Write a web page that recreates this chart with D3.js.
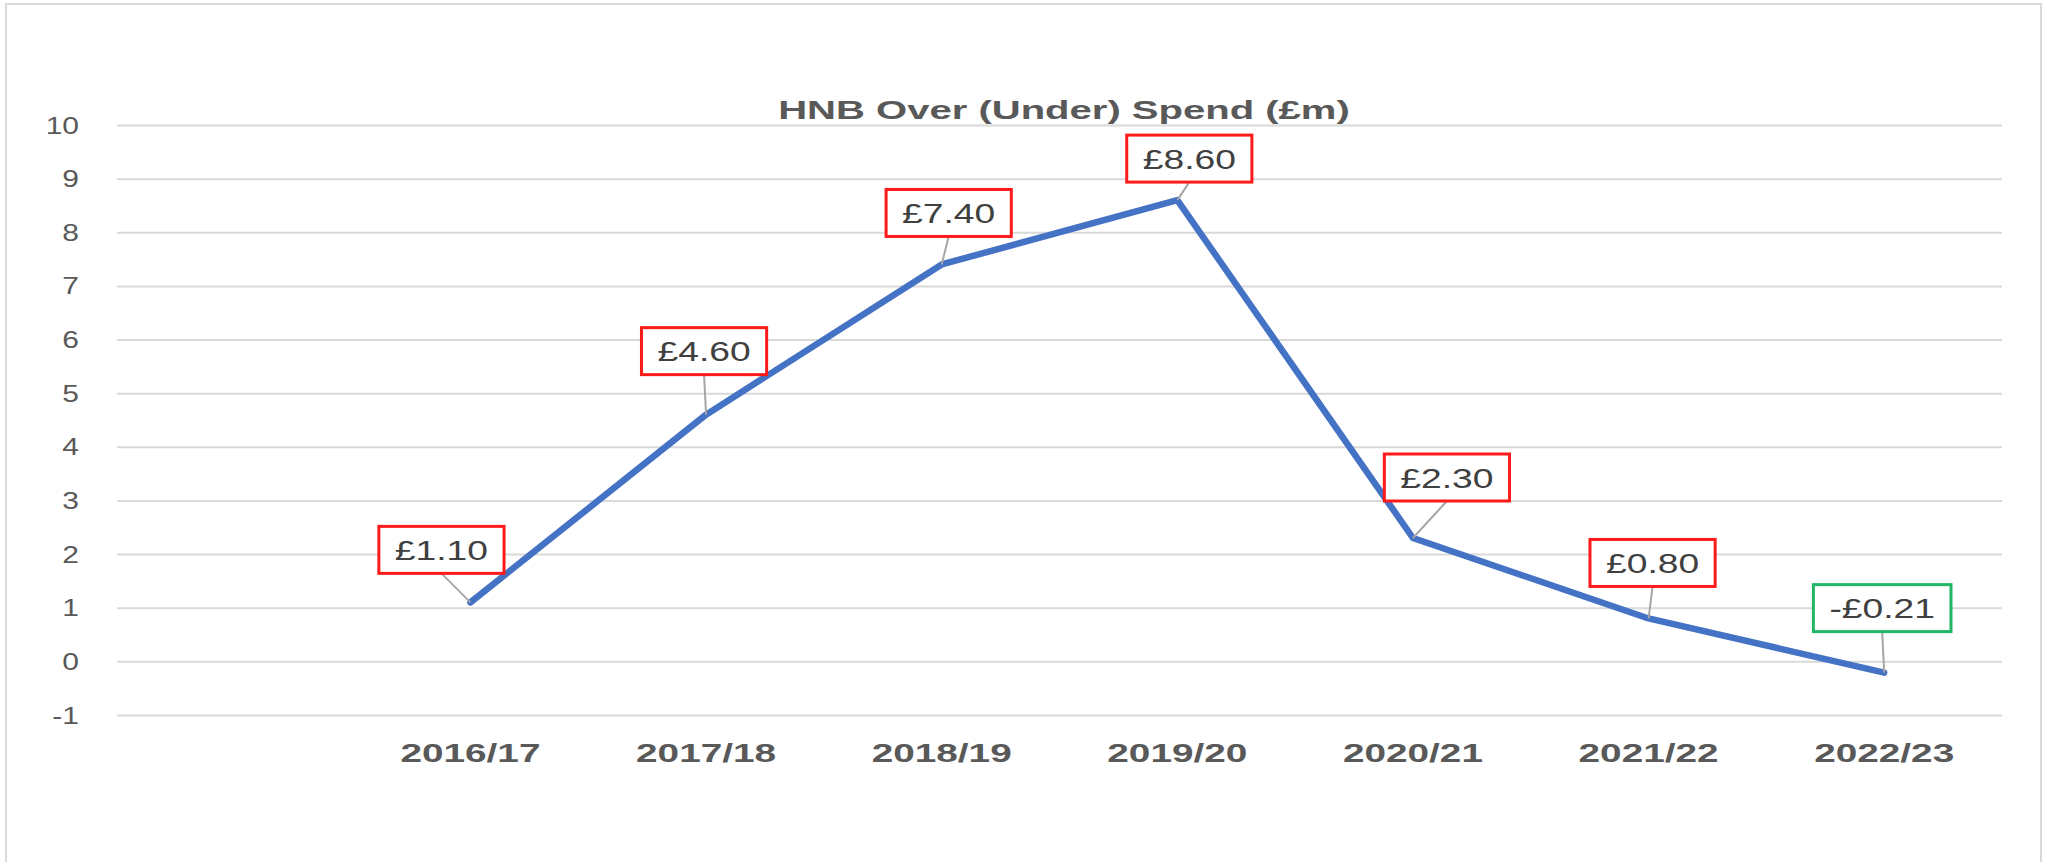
<!DOCTYPE html>
<html>
<head>
<meta charset="utf-8">
<script src="https://cdn.jsdelivr.net/npm/d3@7"></script>
<style>
  html, body { margin: 0; padding: 0; background: #ffffff; }
  svg { display: block; }
</style>
</head>
<body>
<svg id="chart" width="2048" height="862"></svg>
<script>
// ---- data ----
const title = "HNB Over (Under) Spend (£m)";
const categories = ["2016/17", "2017/18", "2018/19", "2019/20", "2020/21", "2021/22", "2022/23"];
const values = [1.10, 4.60, 7.40, 8.60, 2.30, 0.80, -0.21];
const labels = ["£1.10", "£4.60", "£7.40", "£8.60", "£2.30", "£0.80", "-£0.21"];
const yTicks = [-1, 0, 1, 2, 3, 4, 5, 6, 7, 8, 9, 10];
const yTickLabels = ["-1", "0", "1", "2", "3", "4", "5", "6", "7", "8", "9", "10"];
// label box offsets (layout): dx of box centre from point, dy of box bottom from point
const labelOffsets = [[-29, -29], [-2, -40], [7, -28], [12, -18], [34, -37], [4, -32], [-2, -41]];

// ---- layout ----
const plot = { left: 117, right: 2002, top: 125, bottom: 715 };
const svg = d3.select("#chart");

// frame
svg.append("rect")
  .attr("x", 6).attr("y", 4).attr("width", 2035).attr("height", 870)
  .attr("fill", "#fff").attr("stroke", "#d9d9d9").attr("stroke-width", 2);

const x = d3.scaleBand().domain(["", ...categories]).range([plot.left, plot.right]);
const y = d3.scaleLinear().domain([-1, 10]).range([plot.bottom, plot.top]);
const cx = c => x(c) + x.bandwidth() / 2;

// gridlines + y labels via axis
const yAxis = d3.axisLeft(y).tickValues(yTicks).tickSize(0).tickPadding(0)
  .tickFormat(d => yTickLabels[yTicks.indexOf(d)]);
const yg = svg.append("g").attr("transform", `translate(${plot.left},0)`).call(yAxis);
yg.select(".domain").remove();
yg.selectAll(".tick line").attr("x2", plot.right - plot.left).attr("stroke", "#d9d9d9").attr("stroke-width", 2);
yg.selectAll(".tick text")
  .attr("x", null).attr("dy", null)
  .attr("transform", `translate(${79 - plot.left},8) scale(1.25,1)`)
  .attr("text-anchor", "end")
  .attr("fill", "#595959")
  .style("font-family", "'Liberation Sans', Arial, sans-serif")
  .style("font-size", "24px");

// x axis labels
const xAxis = d3.axisBottom(x).tickSize(0).tickPadding(0).tickFormat(d => d);
const xg = svg.append("g").attr("transform", `translate(0,${plot.bottom})`).call(xAxis);
xg.select(".domain").remove();
xg.selectAll(".tick text")
  .attr("y", null).attr("dy", null)
  .attr("transform", "translate(0,47) scale(1.55,1)")
  .attr("text-anchor", "middle")
  .attr("fill", "#595959")
  .style("font-family", "'Liberation Sans', Arial, sans-serif")
  .style("font-weight", "bold")
  .style("font-size", "25px");

// title
svg.append("text")
  .attr("transform", `translate(1064,119) scale(1.54,1)`)
  .attr("text-anchor", "middle")
  .attr("fill", "#595959")
  .style("font-family", "'Liberation Sans', Arial, sans-serif")
  .style("font-weight", "bold")
  .style("font-size", "26px")
  .text(title);

// line
const pts = categories.map((c, i) => ({ c, v: values[i], lab: labels[i], off: labelOffsets[i] }));
const line = d3.line().x(d => cx(d.c)).y(d => y(d.v));
svg.append("path")
  .datum(pts)
  .attr("d", line)
  .attr("fill", "none")
  .attr("stroke", "#4472c4")
  .attr("stroke-width", 6.5)
  .attr("stroke-linejoin", "round")
  .attr("stroke-linecap", "round");

// data labels
const boxH = 47, textScale = 1.33;
const lg = svg.append("g");
pts.forEach(d => {
  const px = cx(d.c), py = y(d.v);
  const bx = px + d.off[0], bBottom = py + d.off[1];
  const g = lg.append("g");
  g.append("line")
    .attr("x1", bx).attr("y1", bBottom).attr("x2", px).attr("y2", py)
    .attr("stroke", "#a6a6a6").attr("stroke-width", 2);
  const rect = g.append("rect");
  const t = g.append("text")
    .attr("transform", `translate(${bx},${bBottom - boxH / 2 + 10}) scale(${textScale},1)`)
    .attr("text-anchor", "middle")
    .attr("fill", "#404040")
    .style("font-family", "'Liberation Sans', Arial, sans-serif")
    .style("font-size", "28px")
    .text(d.lab);
  const tw = t.node().getComputedTextLength() * textScale;
  const bw = tw + 32;
  rect.attr("x", bx - bw / 2).attr("y", bBottom - boxH)
    .attr("width", bw).attr("height", boxH)
    .attr("fill", "#fff")
    .attr("stroke", d.v < 0 ? "#22b565" : "#ff1a1a")
    .attr("stroke-width", 3);
});
</script>
</body>
</html>
